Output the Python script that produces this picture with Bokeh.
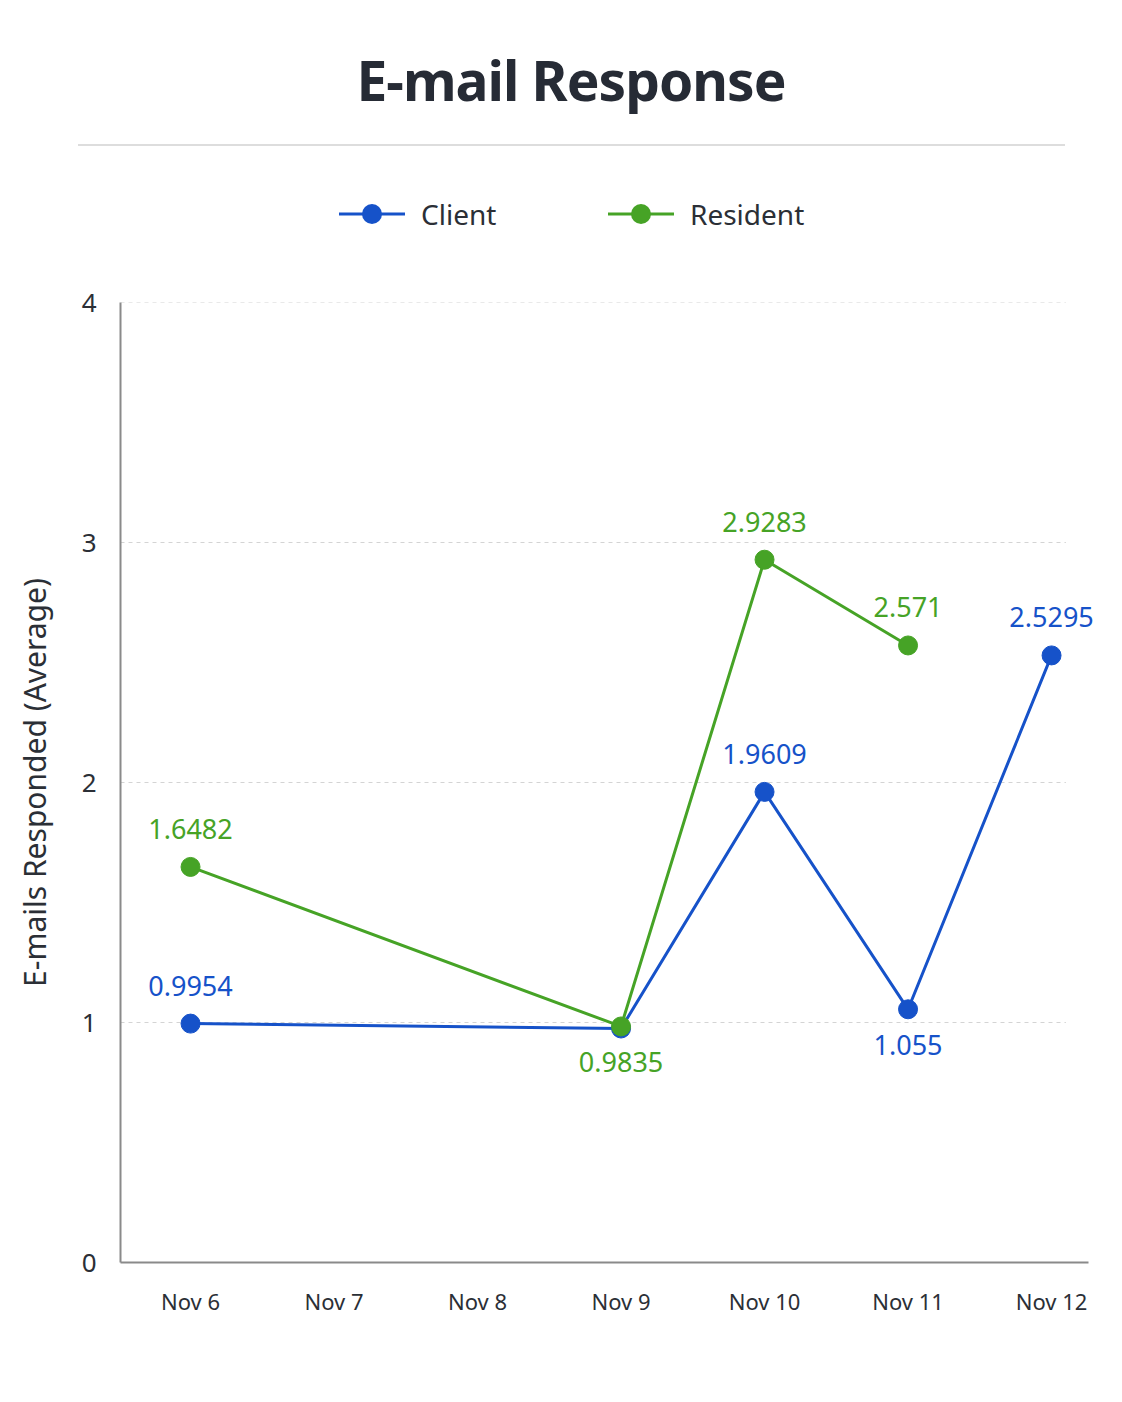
from bokeh.plotting import figure
from bokeh.models import (Range1d, FixedTicker, Div, ColumnDataSource)
from bokeh.layouts import column
from bokeh.embed import file_html
from bokeh.resources import INLINE
from bokeh.core.properties import value

# ---- data ----
dates = ["Nov 6", "Nov 7", "Nov 8", "Nov 9", "Nov 10", "Nov 11", "Nov 12"]

client_dates = ["Nov 6", "Nov 9", "Nov 10", "Nov 11", "Nov 12"]
client_values = [0.9954, 0.975, 1.9609, 1.055, 2.5295]
client_show = [True, False, True, True, True]
client_label_pos = ["above", "above", "above", "below", "above"]

resident_dates = ["Nov 6", "Nov 9", "Nov 10", "Nov 11"]
resident_values = [1.6482, 0.9835, 2.9283, 2.571]
resident_show = [True, True, True, True]
resident_label_pos = ["above", "below", "above", "above"]

series_names = ["Client", "Resident"]
y_ticks = [0, 1, 2, 3, 4]

BLUE = "#1652c9"
GREEN = "#46a326"
FONT = "Noto Sans"
TXT = "#2b2f36"


def legend_entry(name, color, left):
    return (
        f"<svg style='position:absolute;left:{left}px;top:200px;' width='70' height='28'>"
        f"<line x1='2' y1='14' x2='68' y2='14' stroke='{color}' stroke-width='3'/>"
        f"<circle cx='35' cy='14' r='10' fill='{color}'/></svg>"
        f"<div style=\"position:absolute;left:{left + 84}px;top:194px;line-height:40px;"
        f"font-family:'Noto Sans';font-size:28px;color:{TXT};\">{name}</div>"
    )


header = Div(
    text=(
        "<div style='position:relative;width:1122px;height:260px;'>"
        "<div style=\"position:absolute;left:10px;top:42px;width:1122px;text-align:center;"
        "font-family:'Noto Sans';font-weight:700;font-size:55px;line-height:76px;color:#262b35;"
        "letter-spacing:-1px;\">E-mail Response</div>"
        "<div style='position:absolute;left:78px;top:144px;width:987px;height:2px;background:#dddddd;'></div>"
        + legend_entry(series_names[0], BLUE, 337)
        + legend_entry(series_names[1], GREEN, 606)
        + "</div>"
    ),
    width=1122, height=260, margin=(0, 0, 0, 0),
)

X0 = -0.488
X_AXIS_END = 6.258
X1 = 6.369

p = figure(
    width=1122, height=1142, output_backend="svg", toolbar_location=None,
    x_range=Range1d(X0, X1), y_range=Range1d(0, 4),
    min_border_left=120, min_border_right=18, min_border_top=42, min_border_bottom=140,
    background_fill_color="white", border_fill_color="white", outline_line_color=None,
)
p.margin = (0, 0, 0, 0)

# axes
p.xaxis.ticker = FixedTicker(ticks=list(range(len(dates))))
p.xaxis.major_label_overrides = {i: d for i, d in enumerate(dates)}
p.xaxis.bounds = (X0, X_AXIS_END)
p.yaxis.ticker = FixedTicker(ticks=y_ticks)
for ax in (p.xaxis[0], p.yaxis[0]):
    ax.axis_line_color = "#8a8a8a"
    ax.axis_line_width = 2
    ax.major_tick_line_color = None
    ax.minor_tick_line_color = None
    ax.major_label_text_font = FONT
    ax.major_label_text_color = TXT
p.xaxis.major_label_text_font_size = "22px"
p.xaxis.major_label_standoff = 17
p.yaxis.major_label_text_font_size = "26px"
p.yaxis.major_label_standoff = 18
p.yaxis.axis_label = "E-mails Responded (Average)"
p.yaxis.axis_label_text_font = FONT
p.yaxis.axis_label_text_font_size = "30px"
p.yaxis.axis_label_text_font_style = "normal"
p.yaxis.axis_label_text_color = TXT
p.yaxis.axis_label_standoff = 24

# dashed horizontal grid lines (stop short of the right end like the reference)
p.xgrid.grid_line_color = None
p.ygrid.grid_line_color = None
gy = [t for t in y_ticks if t > 0]
p.segment(x0=[X0] * len(gy), x1=[6.1] * len(gy), y0=gy, y1=gy,
          line_color="#d4d4d4", line_dash="4 4", line_width=1)


def series(ds, vals, show, pos, color):
    xs = [dates.index(d) for d in ds]
    src = ColumnDataSource(dict(x=xs, y=vals))
    p.line("x", "y", source=src, line_color=color, line_width=3)
    p.scatter("x", "y", source=src, size=19, fill_color=color, line_color=color)
    lx = [x for x, s in zip(xs, show) if s]
    ly = [v for v, s in zip(vals, show) if s]
    lt = [str(v) for v, s in zip(vals, show) if s]
    lo = [(-38 if pp == "above" else 36) for pp, s in zip(pos, show) if s]
    lsrc = ColumnDataSource(dict(x=lx, y=ly, t=lt, o=lo))
    p.text("x", "y", text="t", source=lsrc, y_offset="o", text_align="center",
           text_baseline="middle", text_color=color, text_font=value(FONT),
           text_font_size="27px")


series(client_dates, client_values, client_show, client_label_pos, BLUE)
series(resident_dates, resident_values, resident_show, resident_label_pos, GREEN)

layout = column(header, p, spacing=0, margin=(0, 0, 0, 0))
open("out.html", "w").write(file_html(layout, INLINE))
